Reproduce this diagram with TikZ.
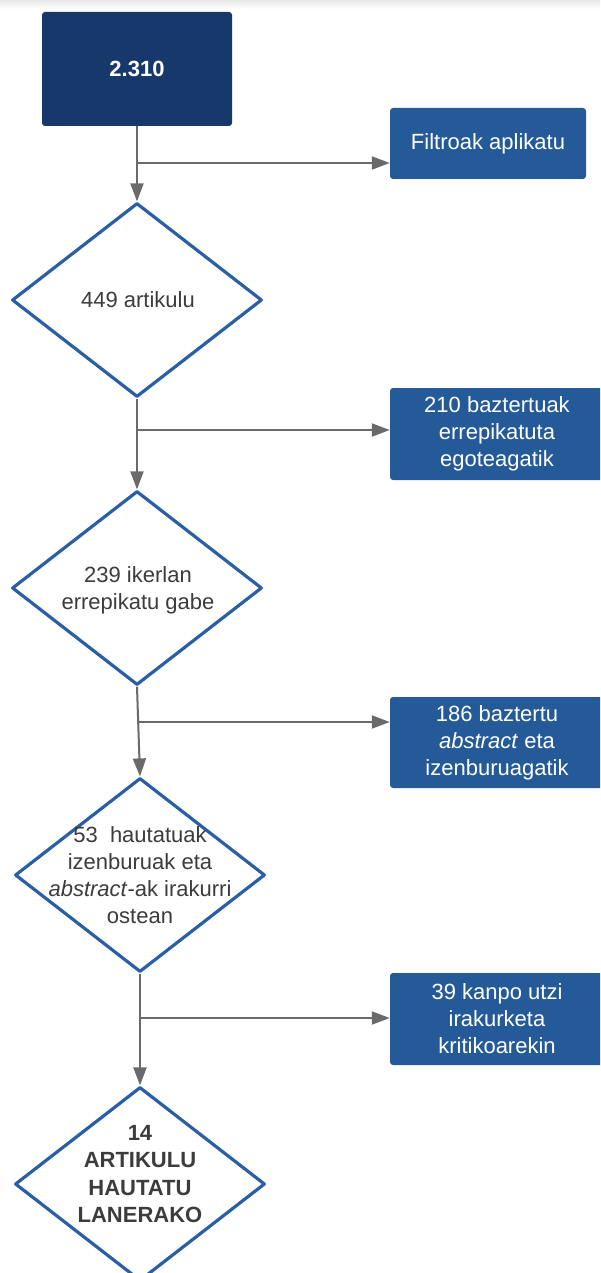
\documentclass[tikz,border=0pt]{standalone}
\usepackage{fontspec}
\setmainfont{Liberation Sans}
\usetikzlibrary{arrows.meta,shapes.geometric}
\definecolor{navy}{HTML}{16386B}
\definecolor{mblue}{HTML}{255A99}
\definecolor{dborder}{HTML}{2B5FA4}
\definecolor{agray}{HTML}{6A6A6A}
\definecolor{tgray}{HTML}{3C3C3C}
\begin{document}
\begin{tikzpicture}[x=1pt,y=-1pt,
  font=\fontsize{22}{27}\selectfont,
  darkbox/.style={fill=navy, rounded corners=3pt, text=white, font=\fontsize{22}{27}\selectfont\bfseries, inner sep=0pt},
  bluebox/.style={fill=mblue, rounded corners=3pt, text=white, align=center, inner sep=0pt},
  dia/.style={diamond, draw=dborder, line width=3.2pt, line join=round, fill=white, minimum width=250pt, minimum height=194pt, inner sep=0pt},
  dtext/.style={text=tgray, align=center, inner sep=0pt},
  flow/.style={draw=agray, line width=2pt, -{Triangle[length=18pt,width=13pt]}}
]
\useasboundingbox (0,0) rectangle (600,1273);
\clip (0,0) rectangle (600,1273);
\fill[white] (0,0) rectangle (600,1273);
\shade[top color=gray!18, bottom color=white] (0,0) rectangle (600,9);

% nodes
\node[darkbox, minimum width=190pt, minimum height=114pt] (a) at (137,69) {2.310};
\node[bluebox, minimum width=196pt, minimum height=71pt] (f) at (488,143.5) {Filtroak aplikatu};
\node[dia] (d1) at (137,300) {};
\node[dtext] (d1t) at (138,300) {449 artikulu};
\node[bluebox, minimum width=214pt, minimum height=92pt] (r1) at (497,434) {210 baztertuak\\errepikatuta\\egoteagatik};
\node[dia] (d2) at (137,588) {};
\node[dtext] (d2t) at (138,590) {239 ikerlan\\errepikatu gabe};
\node[bluebox, minimum width=214pt, minimum height=91pt] (r2) at (497,742.5) {186 baztertu\\\textit{abstract} eta\\izenburuagatik};
\node[dia] (d3) at (140,875) {};
\node[dtext] (d3t) at (140,875) {53\ \ hautatuak\\izenburuak eta\\\textit{abstract}-ak irakurri\\ostean};
\node[bluebox, minimum width=214pt, minimum height=92pt] (r3) at (497,1019) {39 kanpo utzi\\irakurketa\\kritikoarekin};
\node[dia] (d4) at (140,1184) {};
\node[dtext, font=\fontsize{22}{27.5}\selectfont\bfseries] (d4t) at (140,1174) {14\\ARTIKULU\\HAUTATU\\LANERAKO};

% branch points
\coordinate (b1) at (137,163);
\coordinate (b2) at (137,430);
\coordinate (b3) at (137,722);
\coordinate (b4) at (140,1018);

% connectors
\draw[flow] (a.south) -- (d1.north);
\draw[flow] (b1) -- (b1 -| f.west);
\draw[flow] (d1.south) -- (d2.north);
\draw[flow] (b2) -- (b2 -| r1.west);
\draw[flow] (d2.south) -- (d3.north);
\draw[flow] (b3) -- (b3 -| r2.west);
\draw[flow] (d3.south) -- (d4.north);
\draw[flow] (b4) -- (b4 -| r3.west);
\end{tikzpicture}
\end{document}
